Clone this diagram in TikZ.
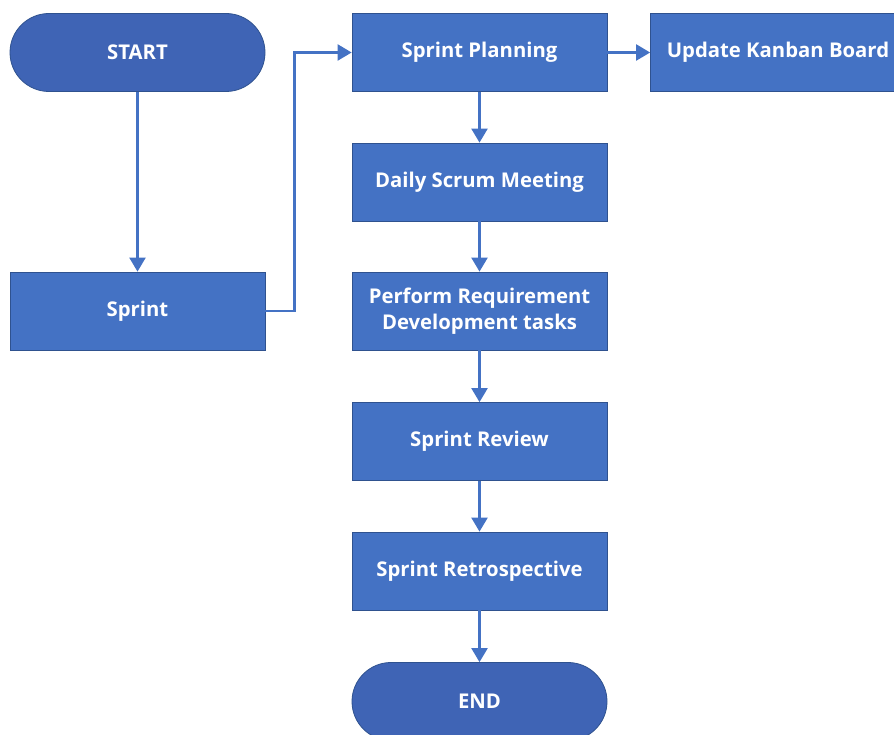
\documentclass[tikz,border=0pt]{standalone}
\usepackage{fontspec}
\setmainfont{Open Sans}
\usepackage{xcolor}
\usepackage{tikz}
\usetikzlibrary{arrows.meta}

\definecolor{boxblue}{HTML}{4472C4}
\definecolor{pillblue}{HTML}{3F64B5}
\definecolor{edgeblue}{HTML}{2F528F}

\tikzset{
	stepbox/.style={draw=edgeblue, line width=0.8pt, fill=boxblue, text=white,
		minimum width=255pt, minimum height=78pt, align=center, inner sep=1pt,
		font=\fontsize{20.3}{26}\selectfont\bfseries},
	pill/.style={stepbox, fill=pillblue, rounded corners=39pt},
	flow/.style={draw=boxblue, line width=2.4pt,
		-{Triangle[length=14pt,width=16pt]}}
}

\begin{document}
\begin{tikzpicture}[x=1pt, y=-1pt]
			\clip (0,0) rectangle (894,735);
			\fill[white] (0,0) rectangle (894,735);
			% left column
			\node[pill] (start) at (137.5,52.5) {START};
			\node[stepbox] (sprint) at (137.5,311) {Sprint};
			% main column
			\node[stepbox] (plan) at (479.5,52.5) {Sprint Planning};
			\node[stepbox] (kanban) at (778,52.5) {Update Kanban Board};
			\node[stepbox] (daily) at (479.5,182) {Daily Scrum Meeting};
			\node[stepbox] (perform) at (479.5,311) {Perform Requirement\\Development tasks};
			\node[stepbox] (review) at (479.5,441.5) {Sprint Review};
			\node[stepbox] (retro) at (479.5,571) {Sprint Retrospective};
			\node[pill] (end) at (479.5,701.5) {END};
			% connectors
			\draw[flow] (start) -- (sprint);
			\draw[flow] (sprint.east) -- ++(29,0) |- (plan.west);
			\draw[flow] (plan) -- (kanban);
			\draw[flow] (plan) -- (daily);
			\draw[flow] (daily) -- (perform);
			\draw[flow] (perform) -- (review);
			\draw[flow] (review) -- (retro);
			\draw[flow] (retro) -- (end);
		\end{tikzpicture}
\end{document}
